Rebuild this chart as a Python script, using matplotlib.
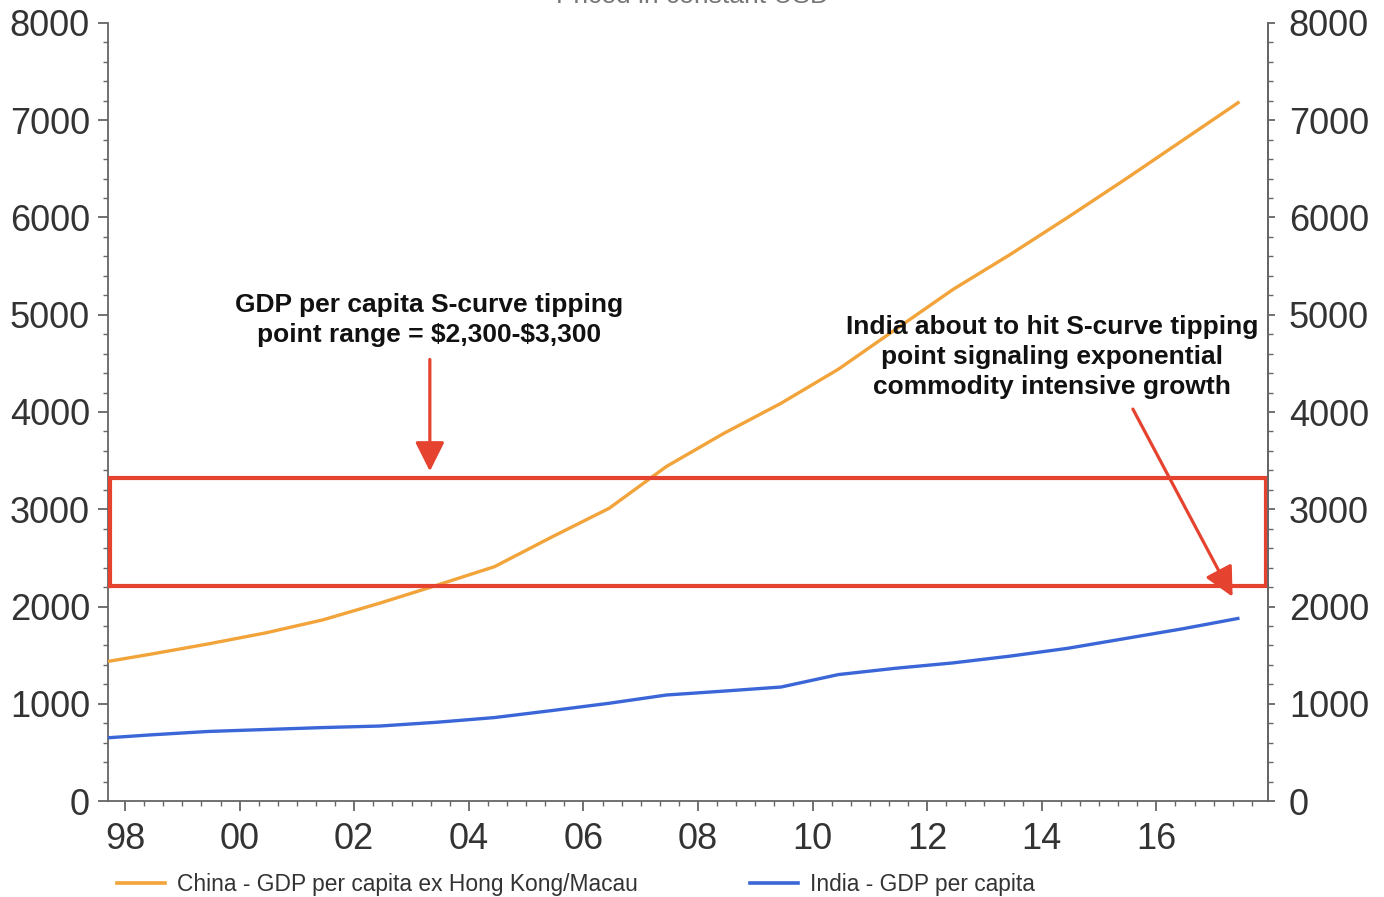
import numpy as np
import matplotlib
matplotlib.use("Agg")
import matplotlib.pyplot as plt
from matplotlib.ticker import MultipleLocator, FixedLocator, FixedFormatter
from matplotlib.lines import Line2D

plt.rcParams['font.family'] = ['Liberation Sans', 'DejaVu Sans']

# ---- data (annual observations, plotted mid-year) ----
years = np.arange(1997, 2018) + 0.45
china = [1410, 1510, 1615, 1728, 1862, 2035, 2220, 2410, 2715, 3010, 3440,
         3780, 4090, 4440, 4850, 5260, 5620, 6000, 6390, 6790, 7190]
india = [640, 680, 715, 735, 755, 771, 810, 858, 930, 1005, 1090,
         1130, 1172, 1300, 1365, 1420, 1490, 1570, 1670, 1770, 1880]
xtick_years = [1998, 2000, 2002, 2004, 2006, 2008, 2010, 2012, 2014, 2016]
xtick_labels = ['98', '00', '02', '04', '06', '08', '10', '12', '14', '16']
box_low, box_high = 2210, 3320
china_label = 'China - GDP per capita ex Hong Kong/Macau'
india_label = 'India - GDP per capita'
title = 'Priced in constant USD'
note1 = 'GDP per capita S-curve tipping\npoint range = \\$2,300-\\$3,300'
note2 = 'India about to hit S-curve tipping\npoint signaling exponential\ncommodity intensive growth'

ORANGE = '#F2A33A'
BLUE = '#3A66D8'
RED = '#E5432F'
TXT = '#333333'
SPINE = '#666666'

fig = plt.figure(figsize=(13.84, 8.97), dpi=100)
ax = fig.add_axes([108/1384, 1-801/897, (1268-108)/1384, (801-23)/897])

xmin, xmax = 1997.703, 2017.948
ax.set_xlim(xmin, xmax)
ax.set_ylim(0, 8000)

ax.plot(years, china, color=ORANGE, lw=2.4, solid_capstyle='butt', zorder=3)
ax.plot(years, india, color=BLUE, lw=2.4, solid_capstyle='butt', zorder=3)

# red box
x0 = xmin + 0.035
x1 = xmax - 0.035
ax.plot([x0, x1, x1, x0, x0], [box_low, box_low, box_high, box_high, box_low],
        color=RED, lw=3.0, zorder=4, solid_joinstyle='miter')

# arrows
astyle = "-|>,head_length=0.9,head_width=0.45"
ax.annotate('', xy=(2003.32, 3390), xytext=(2003.32, 4540),
            arrowprops=dict(arrowstyle=astyle, color=RED, lw=2.3, mutation_scale=20,
                            shrinkA=0, shrinkB=0), zorder=5)
ax.annotate('', xy=(2017.33, 2100), xytext=(2015.59, 4030),
            arrowprops=dict(arrowstyle=astyle, color=RED, lw=2.3, mutation_scale=20,
                            shrinkA=0, shrinkB=0), zorder=5)

ax.text(2003.3, 4950, note1, ha='center', va='center', fontsize=19,
        fontweight='bold', color='#111111', linespacing=1.32)
ax.text(2014.18, 4565, note2, ha='center', va='center', fontsize=19,
        fontweight='bold', color='#111111', linespacing=1.32)

# spines / ticks
ax.spines['top'].set_visible(False)
for s in ['left', 'right', 'bottom']:
    ax.spines[s].set_color(SPINE)
    ax.spines[s].set_linewidth(1.3)

ax.xaxis.set_major_locator(FixedLocator(xtick_years))
ax.xaxis.set_major_formatter(FixedFormatter(xtick_labels))
ax.xaxis.set_minor_locator(MultipleLocator(1/3))
ax.yaxis.set_major_locator(MultipleLocator(1000))
ax.yaxis.set_minor_locator(MultipleLocator(200))

ax.tick_params(axis='both', which='major', direction='out', length=7, width=1.3,
               color=SPINE, labelsize=26, labelcolor=TXT)
ax.tick_params(axis='both', which='minor', direction='out', length=3.5, width=1.0,
               color=SPINE)
ax.tick_params(axis='x', which='major', pad=8)
ax.tick_params(axis='y', which='major', pad=6)

ax2 = ax.twinx()
ax2.set_ylim(0, 8000)
ax2.yaxis.set_major_locator(MultipleLocator(1000))
ax2.yaxis.set_minor_locator(MultipleLocator(200))
for s in ['top', 'left', 'bottom']:
    ax2.spines[s].set_visible(False)
ax2.spines['right'].set_color(SPINE)
ax2.spines['right'].set_linewidth(1.3)
ax2.tick_params(axis='y', which='major', direction='out', length=5, width=1.3,
                color=SPINE, labelsize=26, labelcolor=TXT, pad=10)
ax2.tick_params(axis='y', which='minor', direction='out', length=3.5, width=1.0,
                color=SPINE)

# legend
handles = [Line2D([], [], color=ORANGE, lw=2.6), Line2D([], [], color=BLUE, lw=2.6)]
fig.legend(handles, [china_label, india_label], loc='center left',
           bbox_to_anchor=(117/1384, 1-884/897), ncol=2, frameon=False,
           fontsize=16.4, handlelength=2.1, handletextpad=0.55, columnspacing=4.9,
           labelcolor=TXT, borderaxespad=0, borderpad=0)

fig.text(0.5, 1-3/897, title, ha='center', va='baseline', fontsize=19, color='#777777')

fig.savefig('out.png', dpi=100)
